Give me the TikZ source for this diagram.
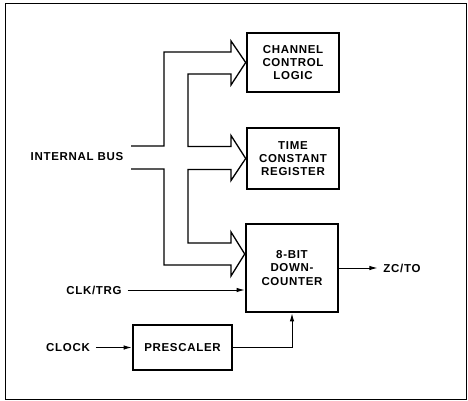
\documentclass[tikz,border=0pt]{standalone}
\usepackage{fontspec}
\setmainfont{Liberation Sans}[LetterSpace=6]
\usetikzlibrary{arrows.meta}

\tikzset{
  block/.style={draw,line width=2.6pt,inner sep=0pt,align=center},
  lbl/.style={inner sep=2pt,outer sep=4pt},
  sig/.style={line width=1pt,-{Latex[length=8pt,width=4.5pt]}},
  bus/.style={line width=1.3pt,line join=miter},
}

\begin{document}
\begin{tikzpicture}[x=1pt,y=-1pt,font=\fontsize{11.5}{13.3}\selectfont\bfseries]
\useasboundingbox (0,0) rectangle (468,401);
\draw[line width=0.9pt] (5,3) rectangle (466,399);
            % Blocks
\node[block,minimum width=92pt,minimum height=59pt] (ccl) at (293,62.5) {CHANNEL\\CONTROL\\LOGIC};
\node[block,minimum width=92pt,minimum height=61pt] (tcr) at (293,158.5) {TIME\\CONSTANT\\REGISTER};
\node[block,minimum width=92pt,minimum height=88pt] (cnt) at (292,268) {8-BIT\\DOWN-\\COUNTER};
\node[block,minimum width=99pt,minimum height=45pt] (pre) at (182.5,347.5) {PRESCALER};
            % Labels
\node[lbl] (bus) at (77,157) {INTERNAL BUS};
\node[lbl] (clktrg) at (94,290) {CLK/TRG};
\node[lbl] (clock) at (68,347.5) {CLOCK};
\node[lbl] (zcto) at (402,268) {ZC/TO};
%Bus
\draw[bus] (131,146) -- (164,146) -- (164,52) -- (231,52) -- (231,41)
  -- (ccl.west) -- (231,85) -- (231,74) -- (188,74) -- (188,146.5)
  -- (231,146.5) -- (231,135.5) -- (tcr.west) -- (231,180.5) -- (231,169.5)
  -- (188,169.5) -- (188,243) -- (231,243) -- (231,232)
  -- ([yshift=14pt]cnt.west) -- (231,276) -- (231,265) -- (164,265)
  -- (164,169) -- (131,169);
%Signals
\draw[sig] (clktrg) -- (clktrg -| cnt.west);
\draw[sig] (clock) -- (pre);
\draw[sig] (pre) -| (cnt);
\draw[sig] (cnt) -- (zcto);
\end{tikzpicture}
\end{document}
